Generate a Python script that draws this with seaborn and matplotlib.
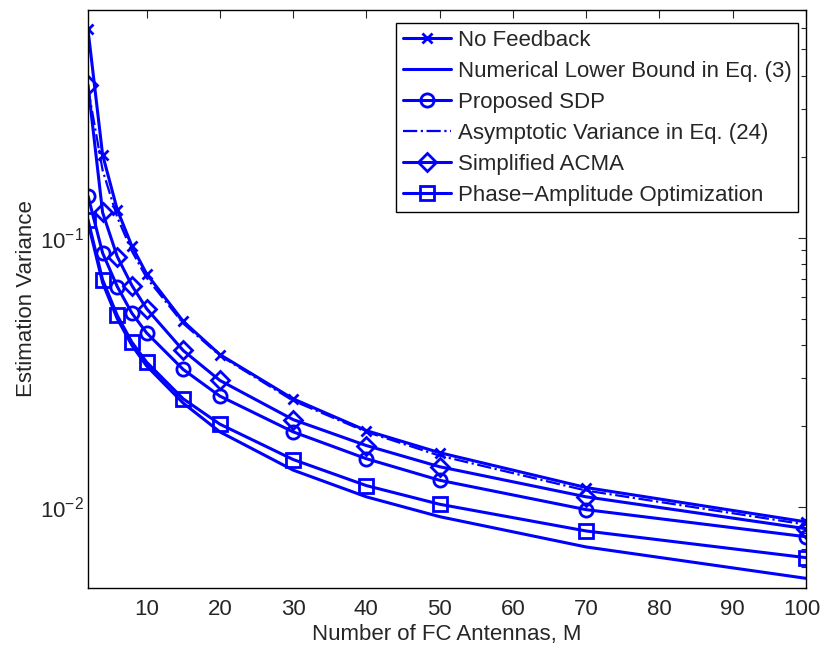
import numpy as np
import pandas as pd
import matplotlib
matplotlib.use('Agg')
import matplotlib.pyplot as plt
import matplotlib.transforms as mtransforms
import seaborn as sns
from matplotlib.ticker import LogLocator, NullFormatter

# ---------------------------------------------------------------------------
# Data
# ---------------------------------------------------------------------------
antennas = [2, 4, 6, 8, 10, 15, 20, 30, 40, 50, 70, 100]

no_feedback = [0.594, 0.203, 0.127, 0.093, 0.0734, 0.0489, 0.0368, 0.0252, 0.0192, 0.0159, 0.0118, 0.0088]
lower_bound = [0.114, 0.068, 0.0500, 0.0398, 0.0334, 0.0243, 0.0190, 0.0137, 0.0109, 0.0092, 0.0071, 0.00543]
proposed_sdp = [0.143, 0.0877, 0.0658, 0.0524, 0.0443, 0.0324, 0.0258, 0.0190, 0.0151, 0.01256, 0.00977, 0.00775]
asymptotic = [0.36, 0.178, 0.119, 0.089, 0.071, 0.048, 0.0365, 0.0248, 0.0190, 0.0155, 0.0115, 0.0086]
simplified_acma = [0.369, 0.124, 0.085, 0.0664, 0.0545, 0.0381, 0.0295, 0.0211, 0.0169, 0.0141, 0.0109, 0.0083]
phase_amp = [0.1166, 0.0697, 0.0514, 0.0409, 0.0345, 0.0252, 0.0203, 0.0150, 0.0120, 0.01023, 0.00814, 0.00648]

labels = ['No Feedback', 'Numerical Lower Bound in Eq. (3)', 'Proposed SDP',
          'Asymptotic Variance in Eq. (24)', 'Simplified ACMA',
          'Phase\u2212Amplitude Optimization']
series = [no_feedback, lower_bound, proposed_sdp, asymptotic, simplified_acma, phase_amp]

# style per series: (marker, linestyle, linewidth)
styles = [('x', '-', 2.2), (None, '-', 2.2), ('o', '-', 2.2),
          (None, '-.', 1.6), ('D', '-', 2.2), ('s', '-', 2.2)]

df = pd.DataFrame({
    'M': antennas * len(series),
    'var': [v for s in series for v in s],
    'method': [lab for lab in labels for _ in antennas],
})

# ---------------------------------------------------------------------------
# Plot
# ---------------------------------------------------------------------------
sns.set_style('white')
plt.rcParams['font.family'] = ['Liberation Sans', 'DejaVu Sans']

fig = plt.figure(figsize=(8.22, 6.45), dpi=100)
ax = fig.add_axes([0.107, 0.0884, 0.8735, 0.896])

blue = '#0000ff'
for lab, (mk, ls, lw) in zip(labels, styles):
    sub = df[df['method'] == lab]
    sns.lineplot(data=sub, x='M', y='var', ax=ax, color=blue, linestyle=ls,
                 linewidth=lw, marker=mk, markersize=9.5 if mk != 'x' else 7,
                 markerfacecolor='none', markeredgecolor=blue,
                 markeredgewidth=2.0, label=lab, estimator=None, sort=False)

ax.set_yscale('log')
ax.set_xlim(2, 100)
ax.set_ylim(0.005, 0.7)
ax.set_xticks(range(10, 101, 10))
ax.yaxis.set_major_locator(LogLocator(base=10, numticks=10))
ax.yaxis.set_minor_locator(LogLocator(base=10, subs=np.arange(2, 10), numticks=20))
ax.yaxis.set_minor_formatter(NullFormatter())

ax.tick_params(which='both', direction='in', top=True, right=True, labelsize=16)
ax.tick_params(which='major', length=6, width=0.8)
ax.tick_params(which='minor', length=3.5, width=0.8)
ax.tick_params(axis='x', pad=8)
ax.tick_params(axis='y', pad=3)
for sp in ax.spines.values():
    sp.set_color('black')
    sp.set_linewidth(1.0)

# keep the "100" label inside the canvas
last = ax.get_xticklabels()[-1]
last.set_transform(last.get_transform() +
                   mtransforms.ScaledTranslation(-4 / 100, 0, fig.dpi_scale_trans))

ax.set_xlabel('Number of FC Antennas, M', fontsize=16, labelpad=3)
ax.set_ylabel('Estimation Variance', fontsize=16, labelpad=2)

leg = ax.legend(loc='upper right', bbox_to_anchor=(798 / 822, 1 - 23 / 645),
                bbox_transform=fig.transFigure, borderaxespad=0,
                fontsize=16, numpoints=1, handlelength=2.15,
                frameon=True, fancybox=False, framealpha=1, borderpad=0.3,
                labelspacing=0.45, handletextpad=0.3)
leg.get_frame().set_edgecolor('black')
leg.get_frame().set_linewidth(1.0)

fig.savefig('out.png', dpi=100)
